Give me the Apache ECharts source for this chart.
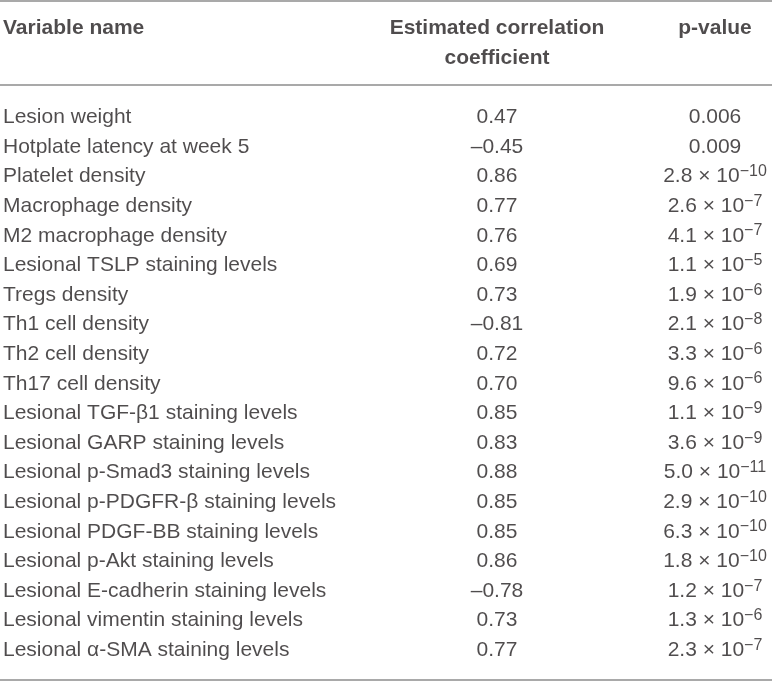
<!DOCTYPE html>
<html><head><meta charset="utf-8">
<script src="https://cdn.jsdelivr.net/npm/echarts@6/dist/echarts.min.js"></script>
<style>html,body{margin:0;padding:0;background:#fff}#c{width:772px;height:681px}</style>
</head><body><div id="c"></div>
<script>
// ---- data ----
const headers = ['Variable name', 'Estimated correlation\ncoefficient', 'p-value'];
const variableNames = [
  'Lesion weight',
  'Hotplate latency at week 5',
  'Platelet density',
  'Macrophage density',
  'M2 macrophage density',
  'Lesional TSLP staining levels',
  'Tregs density',
  'Th1 cell density',
  'Th2 cell density',
  'Th17 cell density',
  'Lesional TGF-β1 staining levels',
  'Lesional GARP staining levels',
  'Lesional p-Smad3 staining levels',
  'Lesional p-PDGFR-β staining levels',
  'Lesional PDGF-BB staining levels',
  'Lesional p-Akt staining levels',
  'Lesional E-cadherin staining levels',
  'Lesional vimentin staining levels',
  'Lesional α-SMA staining levels'
];
const coefficients = ['0.47','–0.45','0.86','0.77','0.76','0.69','0.73','–0.81','0.72','0.70',
  '0.85','0.83','0.88','0.85','0.85','0.86','–0.78','0.73','0.77'];
const pValues = ['0.006','0.009','2.8 × 10^−10','2.6 × 10^−7','4.1 × 10^−7','1.1 × 10^−5',
  '1.9 × 10^−6','2.1 × 10^−8','3.3 × 10^−6','9.6 × 10^−6','1.1 × 10^−9','3.6 × 10^−9',
  '5.0 × 10^−11','2.9 × 10^−10','6.3 × 10^−10','1.8 × 10^−10','1.2 × 10^−7','1.3 × 10^−6','2.3 × 10^−7'];

// ---- layout ----
const W = 772, H = 681;
const FIRST_ROW_Y = 117.5, ROW_H = 29.6;
const COL_X = [3, 497, 715];
const RULES = [-3.93, -1.1, 19.0]; // in row units
const FONT = '"Liberation Sans", Arial, Helvetica, sans-serif';
const TXT = '#231f20';
const FS = 21;

const chart = echarts.init(document.getElementById('c'), null, {renderer: 'canvas'});

const baseLabel = {show: true, position: 'inside', verticalAlign: 'middle',
  fontFamily: FONT, fontSize: FS, color: TXT};

function pFormat(s) {
  const parts = s.split('^');
  return parts.length > 1 ? '{n|' + parts[0] + '}{sup|' + parts[1] + '}' : '{n|' + parts[0] + '}';
}

chart.setOption({
  animation: false,
  backgroundColor: '#fff',
  grid: {left: 0, right: 0, top: 0, bottom: 0},
  xAxis: {type: 'value', min: 0, max: W, show: false},
  yAxis: {type: 'value', inverse: true, min: -FIRST_ROW_Y / ROW_H, max: (H - FIRST_ROW_Y) / ROW_H, show: false},
  series: [
    {
      name: 'header', type: 'scatter', symbolSize: 0, silent: true,
      data: [[COL_X[0], -3], [COL_X[1], -2.5], [COL_X[2], -3]],
      label: Object.assign({}, baseLabel, {
        fontWeight: 'bold', lineHeight: ROW_H,
        formatter: p => headers[p.dataIndex],
        align: 'center'
      }),
      labelLayout: function (p) { return p.dataIndex === 0 ? {align: 'left'} : {}; },
      markLine: {
        silent: true, symbol: 'none', animation: false,
        label: {show: false},
        lineStyle: {color: '#8c8c8c', width: 1.5, type: 'solid'},
        data: RULES.map(r => ({yAxis: r}))
      }
    },
    {
      name: 'Variable name', type: 'scatter', symbolSize: 0, silent: true,
      data: variableNames.map((n, i) => [COL_X[0], i]),
      label: Object.assign({}, baseLabel, {align: 'left', formatter: p => variableNames[p.dataIndex]})
    },
    {
      name: 'Estimated correlation coefficient', type: 'scatter', symbolSize: 0, silent: true,
      data: coefficients.map((c, i) => [COL_X[1], i]),
      label: Object.assign({}, baseLabel, {align: 'center', formatter: p => coefficients[p.dataIndex]})
    },
    {
      name: 'p-value', type: 'scatter', symbolSize: 0, silent: true,
      data: pValues.map((v, i) => [COL_X[2], i]),
      label: Object.assign({}, baseLabel, {
        align: 'center',
        formatter: p => pFormat(pValues[p.dataIndex]),
        rich: {
          n: {fontFamily: FONT, fontSize: FS, color: TXT, lineHeight: 26},
          sup: {fontFamily: FONT, fontSize: 16, color: TXT, lineHeight: 14, verticalAlign: 'top'}
        }
      })
    }
  ]
});
</script>
</body></html>
